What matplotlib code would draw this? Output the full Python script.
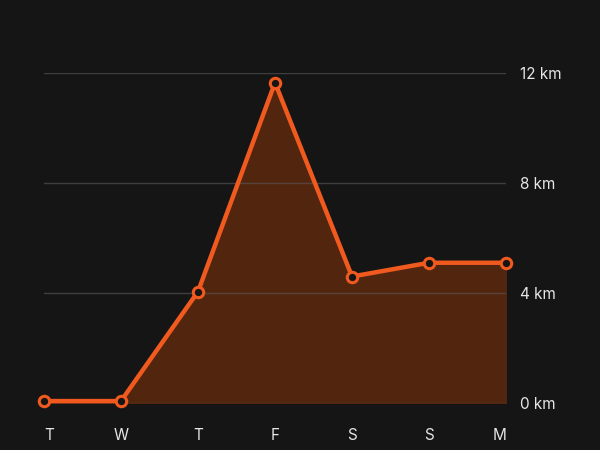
import matplotlib
matplotlib.use("Agg")
import matplotlib.pyplot as plt

days = ["T", "W", "T", "F", "S", "S", "M"]
distance_km = [0.07, 0.07, 4.05, 11.65, 4.6, 5.1, 5.1]
y_ticks = [0, 4, 8, 12]
y_labels = ["0 km", "4 km", "8 km", "12 km"]

bg = "#151515"
orange = "#f05a1e"
fill = "#52250f"

plt.rcParams["font.family"] = ["Inter", "DejaVu Sans"]

fig = plt.figure(figsize=(6, 4.5), dpi=100, facecolor=bg)
ax = fig.add_axes([44 / 600, 1 - 403 / 450, (506 - 44) / 600, (403 - 73) / 450])
ax.set_facecolor(bg)

x = list(range(len(days)))
ax.fill_between(x, 0, distance_km, color=fill, zorder=1)
for t in y_ticks:
    ax.axhline(t, color="#5a5a5a", lw=1, alpha=0.6, zorder=2)
ax.plot(x, distance_km, color=orange, lw=3.2, zorder=3, clip_on=False,
        marker="o", ms=7.5, mfc=bg, mec=orange, mew=2.2, solid_capstyle="round")

ax.set_xlim(0, len(days) - 1)
ax.set_ylim(0, 12)
for s in ax.spines.values():
    s.set_visible(False)

ax.set_xticks(x)
ax.set_xticklabels(days)
labels = ax.get_xticklabels()
labels[0].set_ha("left")
labels[-1].set_ha("right")
ax.yaxis.tick_right()
ax.set_yticks(y_ticks)
ax.set_yticklabels(y_labels)
ax.tick_params(axis="both", length=0, colors="#e6e6e6", labelsize=11)
ax.tick_params(axis="x", pad=18)
ax.tick_params(axis="y", pad=10)

fig.savefig("out.png", dpi=100, facecolor=bg)
